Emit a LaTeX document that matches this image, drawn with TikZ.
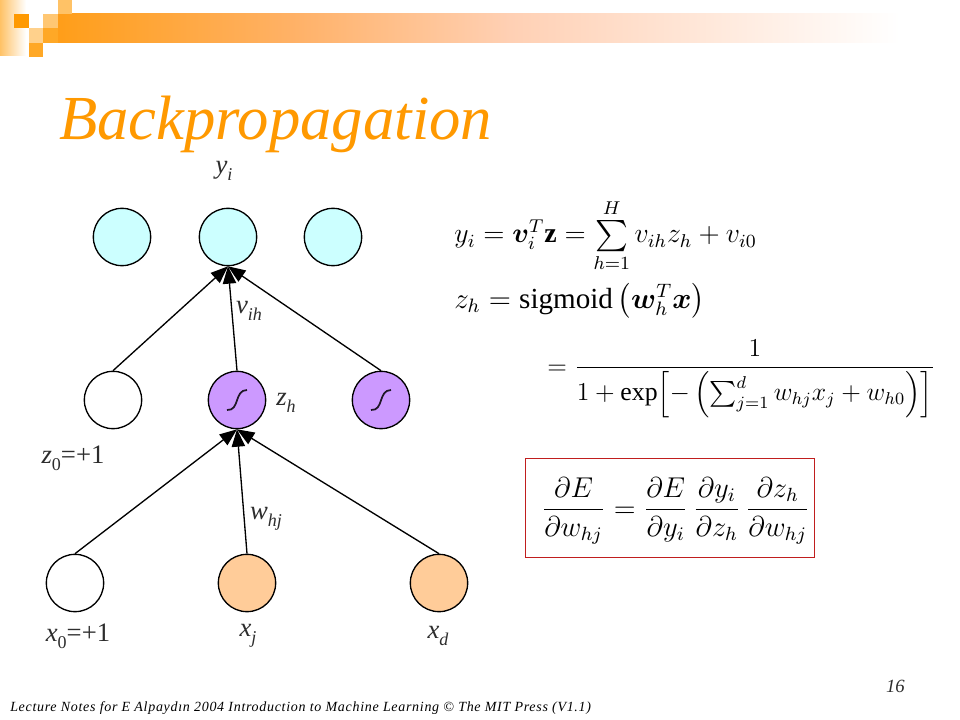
\documentclass[tikz,border=0pt]{standalone}
\usepackage{amsmath,bm,graphicx}
\usepackage{fontspec}
\setmainfont{Liberation Serif}
\newfontfamily\titlefont{Liberation Serif}
\usetikzlibrary{arrows.meta}
\definecolor{orng}{RGB}{255,153,0}
\definecolor{barmid}{RGB}{255,178,105}
\definecolor{barend}{RGB}{255,208,180}
\definecolor{barstart}{RGB}{255,158,25}
\definecolor{cyanfill}{RGB}{204,255,255}
\definecolor{purp}{RGB}{204,153,255}
\definecolor{peach}{RGB}{255,204,153}
\definecolor{boxred}{RGB}{192,30,30}
\definecolor{labgray}{RGB}{45,45,45}
\newcommand{\lab}[2]{\textit{#1}\raisebox{-5pt}{\fontsize{13.5}{14}\selectfont #2}}
\tikzset{
  x=0.75pt,y=-0.75pt,
  unit/.style={circle,draw=black,line width=1pt,minimum size=43pt,inner sep=0pt},
  outunit/.style={unit,fill=cyanfill},
  hidunit/.style={unit,fill=purp},
  inunit/.style={unit,fill=peach},
  bias/.style={unit,fill=white},
  conn/.style={line width=1pt,-{Triangle[length=13pt,width=10pt]}},
  lbl/.style={inner sep=0pt,font=\fontsize{20}{22}\selectfont,text=labgray},
  eq/.style={inner sep=0pt,anchor=base west},
  sigm/.style={line width=1.3pt,draw=black!85!purp}
}
\begin{document}
\begin{tikzpicture}
\useasboundingbox (0,0) rectangle (960,720);
\fill[white] (0,0) rectangle (960,720);
% header
\shade[left color=barstart,right color=barmid] (58,14) rectangle (300,43);
\shade[left color=barmid,right color=barend] (300,14) rectangle (510,43);
\shade[left color=barend,right color=white] (510,14) rectangle (900,43);
\shade[left color=orng!60,right color=white] (0,0) rectangle (26,56);
\fill[orng!60] (58,0) rectangle (72,14);
\fill[orng] (14,14) rectangle (29,28);
\fill[orng!55] (43,14) rectangle (58,28);
\fill[orng!45] (29,28) rectangle (43,43);
\fill[orng!85] (43,28) rectangle (58,43);
\fill[orng!85] (29,43) rectangle (43,57);
% title
\node[inner sep=0pt,anchor=base west,text=orng,font=\titlefont\itshape\fontsize{47}{50}\selectfont] (title) at (59,140) {Backpropagation};
% units
\node[outunit] (y1) at (122,237) {};
\node[outunit] (y2) at (228,237) {};
\node[outunit] (y3) at (333,237) {};
\node[bias] (z0) at (113,400) {};
\node[hidunit] (z1) at (237,400) {};
\node[hidunit] (z2) at (381,400) {};
\node[bias] (x0) at (75,583) {};
\node[inunit] (x1) at (247,583) {};
\node[inunit] (x2) at (439,583) {};
% sigmoid glyphs
\draw[sigm] (227,410) .. controls (240,411) and (234,390) .. (247,390);
\draw[sigm] (371,410) .. controls (384,411) and (378,390) .. (391,390);
% connectors
\draw[conn] (z0.north) -- (y2.south);
\draw[conn] (z2.north) -- (y2.south);
\draw[conn] (z1.north) -- (y2.south);
\draw[conn] (x0.north) -- (z1.south);
\draw[conn] (x2.north) -- (z1.south);
\draw[conn] (x1.north) -- (z1.south);
% labels
\node[lbl] (ly) at (224,171) {\lab{y}{\textit{i}}};
\node[lbl] (lv) at (249,311) {\lab{v}{\textit{ih}}};
\node[lbl] (lz) at (286,403) {\lab{z}{\textit{h}}};
\node[lbl] (lzo) at (73,458) {\lab{z}{0}=+1};
\node[lbl] (lw) at (266,519) {\lab{w}{\textit{hj}}};
\node[lbl] (lxo) at (78,636) {\lab{x}{0}=+1};
\node[lbl] (lxj) at (248,636) {\lab{x}{\textit{j}}};
\node[lbl] (lxd) at (438,636) {\lab{x}{\textit{d}}};
% equations
\node[eq,scale=1.74] (eq1) at (454,243) {\large$y_{i}=\bm{v}_{i}^{T}\mathbf{z}=\mathop{\vcenter{\hbox{\scalebox{1.12}{$\textstyle\sum$}}}}\limits_{h=1}^{H}v_{ih}z_{h}+v_{i0}$};
\node[eq,scale=1.82] (eq2) at (454,308) {\large$z_{h}=\mathrm{sigmoid}\left(\bm{w}_{h}^{T}\bm{x}\right)$};
\node[eq,scale=1.61] (eq3) at (547,374) {\large$=\dfrac{1}{1+\exp\!\left[-\left(\sum_{j=1}^{d}w_{hj}x_{j}+w_{h0}\right)\right]}$};
% box
\node[draw=boxred,line width=0.6pt,minimum width=216.75pt,minimum height=74.25pt,inner sep=0pt] (box) at (669.5,507.5) {};
\node[eq,scale=1.79] (eq4) at (541,517) {\large$\dfrac{\partial E}{\partial w_{hj}}=\dfrac{\partial E}{\partial y_{i}}\,\dfrac{\partial y_{i}}{\partial z_{h}}\,\dfrac{\partial z_{h}}{\partial w_{hj}}$};
% footer
\node[inner sep=0pt,anchor=base east,font=\itshape\fontsize{14}{16}\selectfont,text=labgray] (pg) at (905,692) {16};
\node[inner sep=0pt,anchor=base west,font=\itshape\fontsize{10.5}{12}\selectfont\addfontfeatures{LetterSpace=5}] (foot) at (10,711) {Lecture Notes for E Alpaydın 2004 Introduction to Machine Learning © The MIT Press (V1.1)};
\end{tikzpicture}
\end{document}
